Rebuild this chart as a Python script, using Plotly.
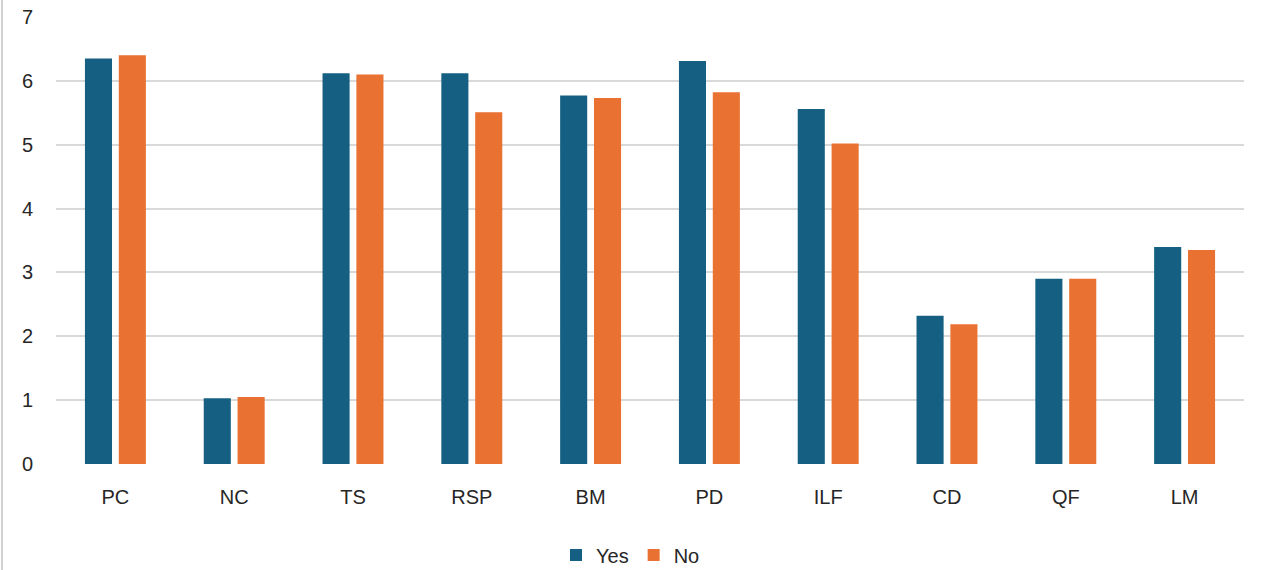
import plotly.graph_objects as go

categories = ["PC", "NC", "TS", "RSP", "BM", "PD", "ILF", "CD", "QF", "LM"]
yes_values = [6.35, 1.03, 6.12, 6.12, 5.77, 6.31, 5.56, 2.32, 2.90, 3.40]
no_values = [6.40, 1.05, 6.10, 5.51, 5.73, 5.82, 5.02, 2.19, 2.90, 3.35]
y_ticks = [0, 1, 2, 3, 4, 5, 6, 7]

W, H = 1261, 570
ml, mr, mt, mb = 56, 17, 17, 106
pw = W - ml - mr

fig = go.Figure()
fig.add_trace(go.Bar(name="Yes", x=categories, y=yes_values, marker_color="#156082",
                     marker_line_width=0))
fig.add_trace(go.Bar(name="No", x=categories, y=no_values, marker_color="#E97132",
                     marker_line_width=0))

font_family = "Liberation Sans, Arial, sans-serif"
fig.update_layout(
    width=W, height=H,
    margin=dict(l=ml, r=mr, t=mt, b=mb, pad=0, autoexpand=False),
    paper_bgcolor="white", plot_bgcolor="white",
    barmode="group", bargap=0.43, bargroupgap=0.2,
    font=dict(family=font_family, size=20, color="#262626"),
    showlegend=True,
    legend=dict(orientation="h", x=0.5, xanchor="center", xref="container",
                y=1 - 555 / H, yanchor="middle", yref="container",
                font=dict(size=20, color="#262626"), itemwidth=30,
                traceorder="normal"),
    xaxis=dict(showgrid=False, showline=False, zeroline=False, ticks="",
               automargin=False,
               ticklabelstandoff=19, tickfont=dict(size=20, color="#262626")),
    yaxis=dict(range=[0, 7], tickvals=y_ticks, showgrid=True, gridcolor="#D9D9D9",
               gridwidth=2, zeroline=False, showline=False, ticks="",
               automargin=False,
               ticklabelstandoff=22, tickfont=dict(size=20, color="#262626")),
)
fig.add_shape(type="line", xref="paper", yref="paper",
              x0=(2 - ml) / pw, x1=(2 - ml) / pw,
              y0=-mb / (H - mt - mb), y1=1 + mt / (H - mt - mb),
              line=dict(color="#D0D0D0", width=2))

fig.write_html(
    "out.html",
    config={"displayModeBar": False},
    post_script="document.body.style.margin='0';document.body.style.overflow='hidden';",
)
